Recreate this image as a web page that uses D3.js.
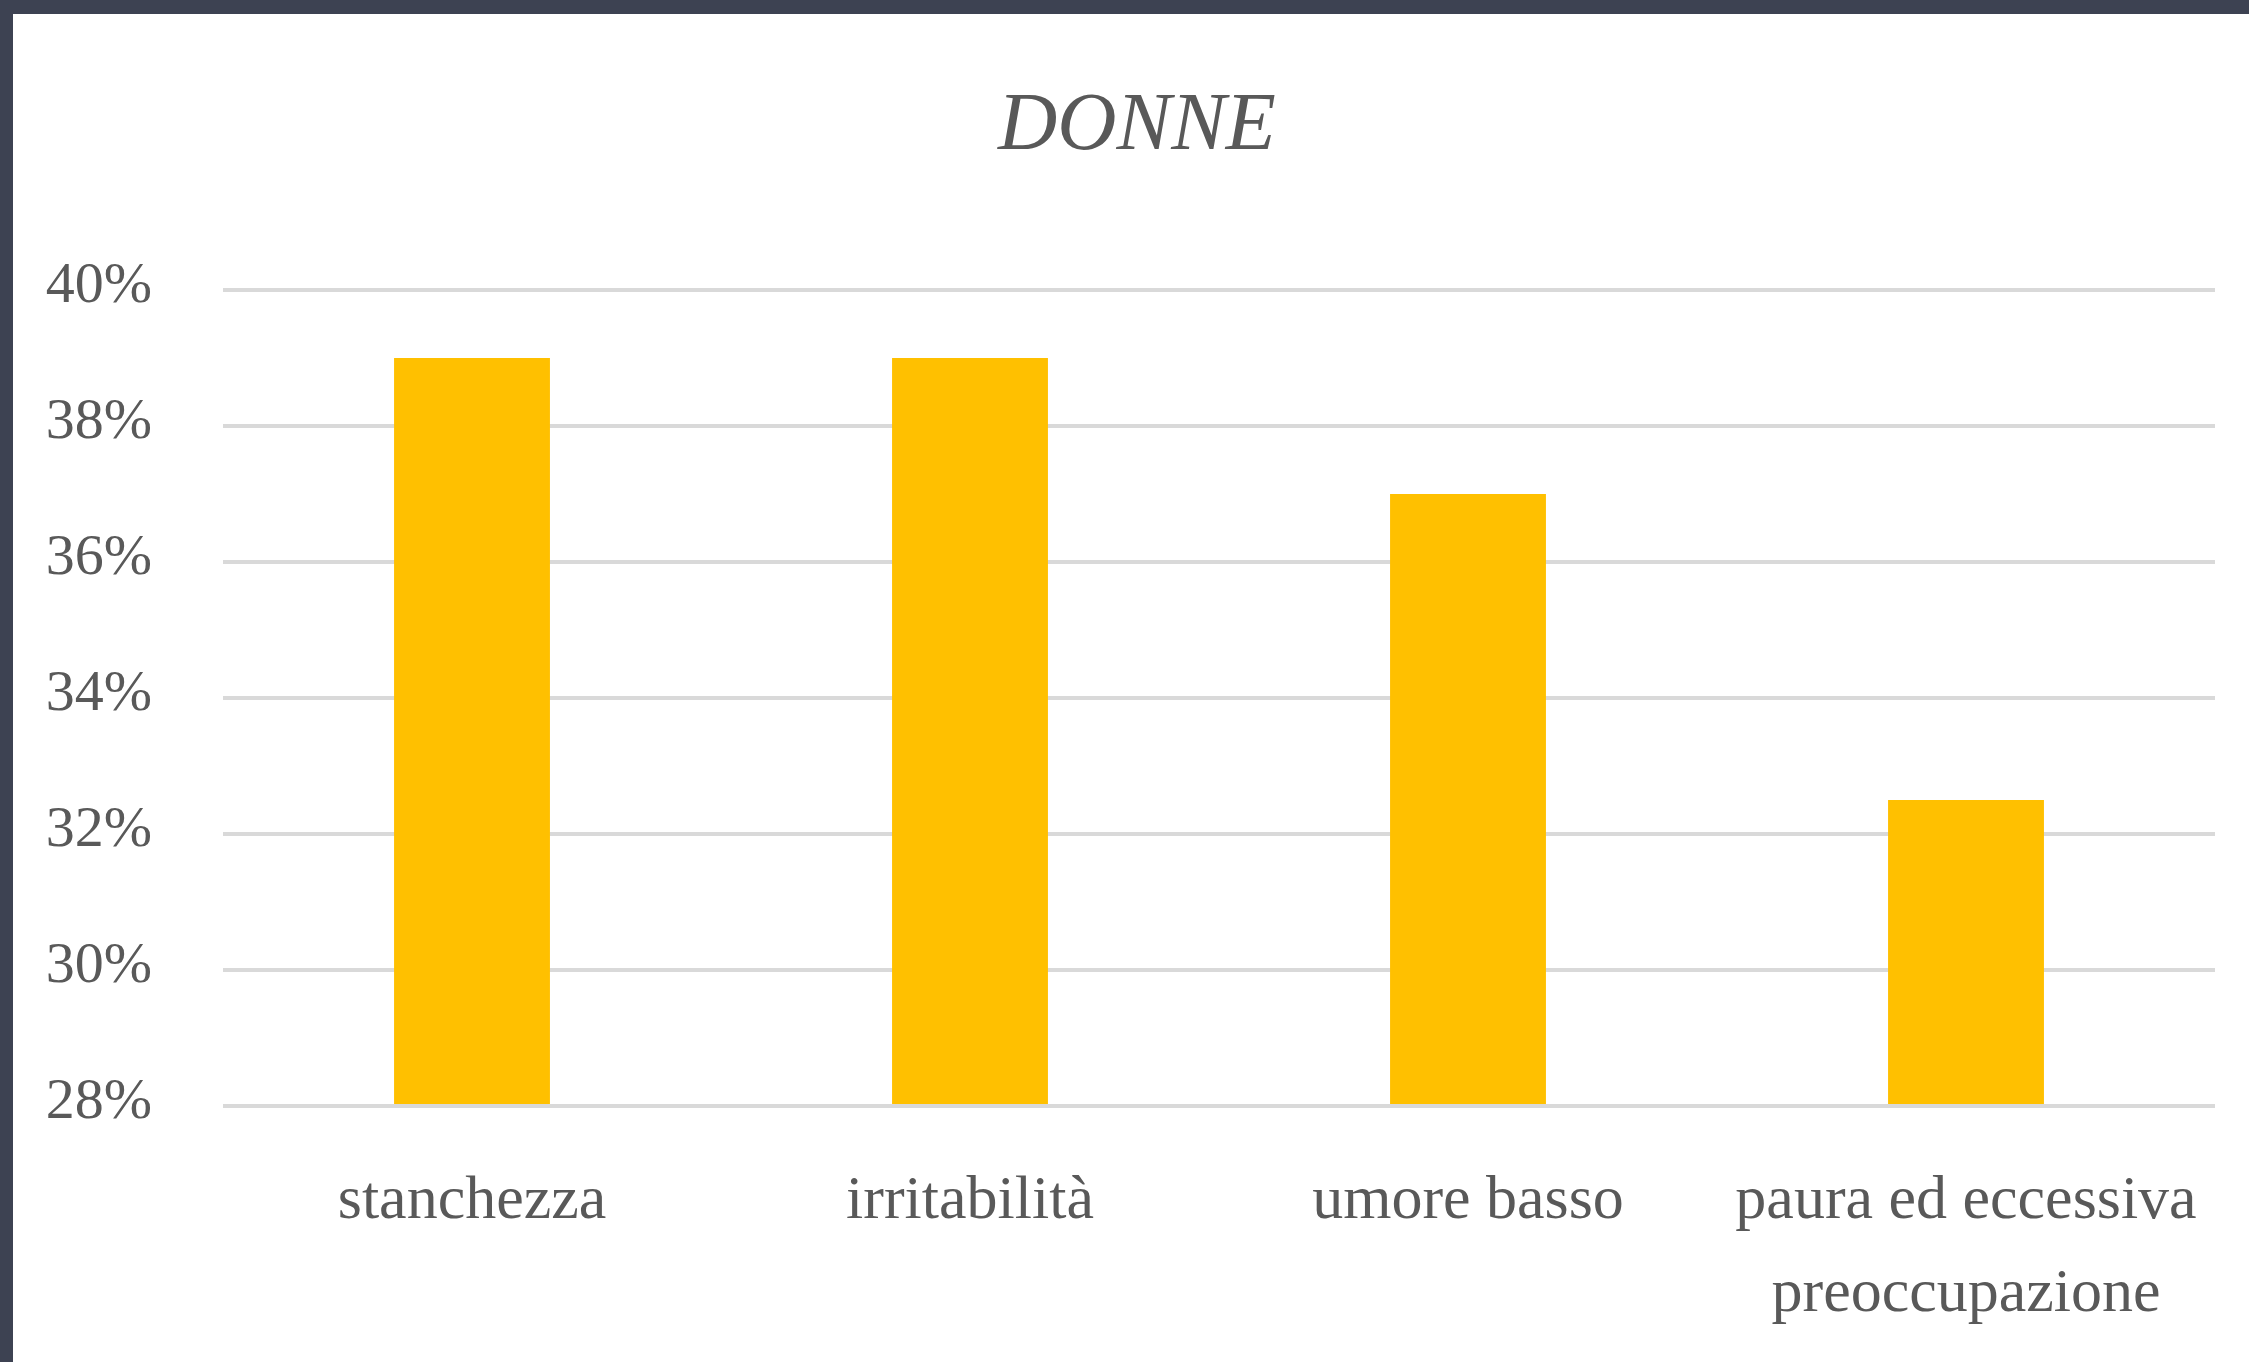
<!DOCTYPE html>
<html lang="it">
<head>
  <meta charset="utf-8">
  <title>DONNE</title>
  <script src="https://d3js.org/d3.v7.min.js"></script>
  <style>
    html, body { margin: 0; padding: 0; background: #3d4252; }
    svg { display: block; }
    .tick text, .cat, .title { font-family: "Liberation Serif", "DejaVu Serif", serif; fill: #595959; }
  </style>
</head>
<body>
<script>
var width = 2249, height = 1362;
var margin = { top: 290, right: 34, bottom: 256, left: 223 };
var innerWidth = width - margin.left - margin.right,
    innerHeight = height - margin.top - margin.bottom;

// dati
var categories = ['stanchezza', 'irritabilità', 'umore basso', 'paura ed eccessiva preoccupazione'];
var values = [0.39, 0.39, 0.37, 0.325];
var yTicks = [0.28, 0.30, 0.32, 0.34, 0.36, 0.38, 0.40];
var title = 'DONNE';

var svg = d3.select('body').append('svg')
            .attr('width', width)
            .attr('height', height);

// pannello bianco
svg.append('rect')
   .attr('x', 13).attr('y', 14)
   .attr('width', width - 13).attr('height', height - 14)
   .attr('fill', '#ffffff');

var g = svg.append('g')
           .attr('transform', 'translate(' + [margin.left, margin.top] + ')');

var x = d3.scaleBand().domain(categories).range([0, innerWidth])
          .paddingInner(0.687).paddingOuter(0.3435);
var y = d3.scaleLinear().domain([0.28, 0.40]).range([innerHeight, 0]);

// griglia
g.selectAll('.grid')
 .data(yTicks)
 .enter().append('line')
 .attr('class', 'grid')
 .attr('x1', 0).attr('x2', innerWidth)
 .attr('y1', function(d){ return y(d); })
 .attr('y2', function(d){ return y(d); })
 .attr('stroke', '#d9d9d9')
 .attr('stroke-width', 4);

// barre
g.selectAll('.bar')
 .data(values)
 .enter().append('rect')
 .attr('class', 'bar')
 .attr('x', function(d, i){ return x(categories[i]); })
 .attr('width', x.bandwidth())
 .attr('y', function(d){ return y(d); })
 .attr('height', function(d){ return y(0.28) - y(d) - 2; })
 .attr('fill', '#ffc000');

// asse y
var yAxis = d3.axisLeft(y).tickValues(yTicks).tickSize(0).tickPadding(71)
              .tickFormat(d3.format('.0%'));
g.append('g').attr('class', 'y axis').call(yAxis)
 .call(function(a){ a.select('.domain').remove(); })
 .selectAll('text')
 .style('font-size', '58px')
 .attr('dy', '0.2em');

// etichette categorie (a capo se troppo lunghe)
var cat = g.selectAll('.cat')
 .data(categories)
 .enter().append('text')
 .attr('class', 'cat')
 .attr('text-anchor', 'middle')
 .style('font-size', '62px')
 .attr('x', function(d){ return x(d) + x.bandwidth() / 2; })
 .attr('y', innerHeight + 112);

cat.each(function(d) {
  var el = d3.select(this), words = d.split(' '), line = [];
  var px = el.attr('x');
  var tspan = el.append('tspan').attr('x', px).attr('dy', 0);
  words.forEach(function(w) {
    line.push(w);
    tspan.text(line.join(' '));
    if (tspan.node().getComputedTextLength() > 480 && line.length > 1) {
      line.pop();
      tspan.text(line.join(' '));
      line = [w];
      tspan = el.append('tspan').attr('x', px).attr('dy', 93).text(w);
    }
  });
});

// titolo
svg.append('text')
   .attr('class', 'title')
   .attr('x', 1137).attr('y', 149)
   .attr('text-anchor', 'middle')
   .style('font-size', '82px')
   .style('font-style', 'italic')
   .text(title);
</script>
</body>
</html>
